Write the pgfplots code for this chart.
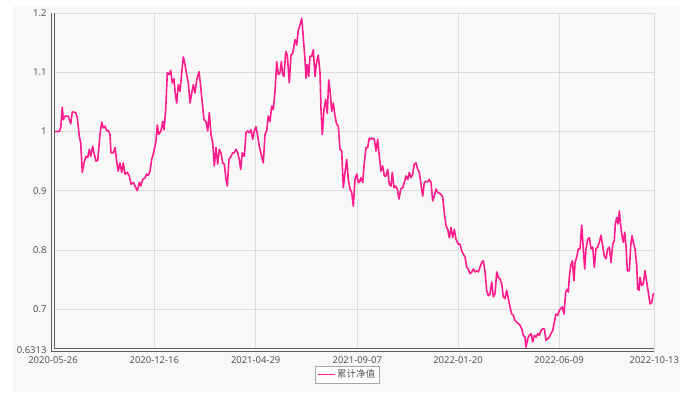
\documentclass[border=0pt]{standalone}
\usepackage{pgfplots}
\pgfplotsset{compat=1.18}
\usepackage{fontspec}
\setmainfont{Noto Sans}
\newfontfamily\cjk{Noto Sans CJK SC}
\definecolor{linepink}{HTML}{FF1C8D}
\definecolor{gridgray}{HTML}{DCDCDC}
\definecolor{axisgray}{HTML}{5F5F5F}
\definecolor{textgray}{HTML}{555555}
\definecolor{panel}{HTML}{F8F8F8}
\begin{document}
\begin{tikzpicture}[x=1bp,y=1bp]
\useasboundingbox (0,0) rectangle (700,392);
\fill[panel] (13,0) rectangle (680,386);
\begin{axis}[
  at={(53bp,379bp)}, anchor=north west,
  scale only axis, width=601.3bp, height=337bp,
  xmin=0, xmax=601.3, ymin=0.6313, ymax=1.2,
  axis background/.style={fill=panel},
  xtick={0,101.3,202.7,304.3,405,506,601.3},
  xticklabels={2020-05-26,2020-12-16,2021-04-29,2021-09-07,2022-01-20,2022-06-09,2022-10-13},
  ytick={0.6313,0.7,0.8,0.9,1,1.1,1.2},
  yticklabels={0.6313,0.7,0.8,0.9,1,1.1,1.2},
  major tick length=0pt,
  grid=major,
  major grid style={gridgray, line width=0.8bp},
  axis line style={gridgray, line width=0.8bp},
  tick label style={font=\fontsize{9.5}{10}\selectfont, text=textgray},
  yticklabel style={xshift=-3bp},
  xticklabel style={yshift=-3bp},
  legend style={at={(0.489,-0.047)}, anchor=north, draw=gray!70, fill=white,
    font=\cjk\fontsize{9.5}{11}\selectfont, text=textgray, inner sep=1.8bp,
    legend cell align=left},
  legend image post style={line width=1bp},
  clip=false,
]
\addplot[linepink, line width=1.6bp, line join=round] coordinates {
(0,1.000)(6.3,1.000)(7.7,1.006)(9.3,1.041)(10.3,1.020)(12,1.026)(15.3,1.026)(17.7,1.013)(19.3,1.033)(22.7,1.032)
(24.3,1.023)(26.3,0.992)(27.7,0.981)(29.3,0.931)(31,0.947)(33,0.958)(34.7,0.956)(36.3,0.970)(37.7,0.958)(39.7,0.975)
(41,0.964)(43,0.950)(44.7,0.951)(47,0.995)(48.7,1.016)(50.3,1.006)(52,1.009)(53.7,1.001)(55.3,1.002)(57,0.995)
(58,0.964)(60.3,0.964)(62,0.973)(63.7,0.950)(65.3,0.933)(67,0.947)(68.7,0.931)(70.3,0.947)(72,0.928)(74.3,0.931)
(76.3,0.925)(78,0.911)(80.3,0.914)(82,0.908)(84.3,0.900)(86.3,0.914)(87.7,0.908)(89.7,0.919)(92,0.922)(93.7,0.928)
(95.3,0.926)(97,0.933)(98.7,0.953)(101,0.967)(103,0.984)(104.3,1.011)(105.7,0.995)(108,1.001)(109.7,1.017)(111,1.003)
(112.7,1.037)(114.3,1.099)(116,1.096)(117.7,1.103)(119.3,1.082)(121,1.089)(122,1.068)(123.7,1.048)(125.3,1.079)(127,1.068)
(128.7,1.099)(130.3,1.126)(132,1.113)(133.7,1.096)(135.3,1.082)(137,1.048)(138.7,1.065)(140.3,1.079)(142,1.065)(143.7,1.087)
(146,1.101)(147.7,1.076)(149.3,1.048)(151,1.020)(153,1.017)(154.7,1.001)(156.3,1.032)(158,0.995)(159.7,0.981)(161.3,0.942)
(163,0.973)(164.7,0.945)(166.3,0.970)(168,0.964)(169.7,0.947)(171.3,0.945)(173,0.919)(174.3,0.908)(176,0.953)(178,0.958)
(179.7,0.964)(181.3,0.964)(183,0.970)(184.7,0.964)(186.3,0.953)(187.7,0.936)(189.3,0.964)(191.3,0.958)(193,0.998)(194.7,1.001)
(196.3,0.998)(198,1.003)(199.7,0.987)(201.3,1.001)(203,1.008)(204.7,0.992)(206.3,0.975)(207,0.970)(208.7,0.958)(210.3,0.947)
(212,0.995)(213.7,1.001)(215.3,1.026)(217,1.017)(218.7,1.043)(220.3,1.037)(222,1.068)(223.7,1.118)(225.3,1.096)(227,1.099)
(228.3,1.118)(229.7,1.096)(231,1.093)(232.7,1.135)(234.3,1.129)(236.3,1.082)(238,1.129)(239.7,1.132)(242,1.155)(243.7,1.146)
(245.3,1.171)(247,1.180)(248.7,1.191)(249.7,1.171)(251,1.143)(252,1.121)(253,1.090)(254.3,1.113)(255.7,1.093)(257,1.127)
(258.7,1.127)(260.3,1.138)(262,1.093)(263.7,1.118)(265.3,1.129)(267,1.099)(268,1.037)(269.3,0.995)(271,1.037)(272.7,1.054)
(274.3,1.031)(275.7,1.087)(277.3,1.065)(278.7,1.034)(280.3,1.048)(282,1.026)(283.7,1.012)(285.3,1.009)(287,0.970)(288.7,0.967)
(290.3,0.905)(292,0.931)(293.7,0.953)(295.3,0.919)(297,0.903)(298.7,0.897)(300.3,0.874)(302,0.919)(303.7,0.928)(305.3,0.914)
(306.3,0.914)(308,0.922)(309.7,0.914)(311.3,0.947)(313,0.973)(314.7,0.973)(316.3,0.989)(318,0.987)(319.7,0.989)(321.3,0.987)
(323,0.967)(324.7,0.987)(326.3,0.958)(328,0.933)(329.7,0.942)(331.3,0.925)(333,0.925)(334.7,0.936)(336.3,0.911)(338,0.908)
(339.3,0.931)(341,0.905)(342.7,0.908)(344.3,0.903)(346,0.886)(347.7,0.903)(349.7,0.905)(351.3,0.914)(353,0.925)(354.7,0.919)
(356.3,0.931)(358,0.922)(359.7,0.928)(361.3,0.945)(363,0.947)(364.7,0.936)(366.3,0.931)(368,0.911)(369.7,0.891)(371.3,0.914)
(373,0.916)(374.7,0.915)(376.3,0.919)(378,0.914)(379.7,0.883)(381.3,0.891)(383,0.903)(384.7,0.897)(386.3,0.896)(388,0.894)
(389.7,0.889)(391.3,0.863)(393,0.841)(394.7,0.835)(396.3,0.821)(398,0.838)(399.7,0.821)(401.3,0.835)(403,0.818)(405.3,0.810)
(407,0.810)(408.7,0.799)(410.3,0.793)(412,0.788)(413.7,0.771)(415.3,0.768)(417,0.760)(418.7,0.763)(420.3,0.768)(422,0.763)
(423.7,0.765)(425.3,0.763)(427,0.771)(428.7,0.779)(430.3,0.782)(432,0.763)(433.7,0.732)(435.3,0.723)(437,0.726)(438.7,0.746)
(440.3,0.721)(442,0.726)(443.7,0.763)(445.3,0.754)(447,0.751)(448.7,0.743)(450.3,0.721)(452,0.718)(453.7,0.732)(455.3,0.718)
(457,0.704)(458.7,0.692)(460.3,0.690)(462,0.681)(463.7,0.678)(465.3,0.676)(467,0.673)(468.7,0.667)(470.3,0.656)(472,0.653)
(473,0.636)(474.7,0.650)(476.3,0.656)(478,0.659)(479.7,0.645)(481.3,0.656)(483,0.653)(484.7,0.659)(486.3,0.656)(488,0.664)
(489.7,0.667)(491.3,0.667)(493,0.648)(494.7,0.650)(496.3,0.653)(498,0.659)(499.7,0.664)(501.3,0.678)(503,0.692)(504.7,0.690)
(506.3,0.698)(507.7,0.701)(509.3,0.704)(511,0.692)(512.7,0.729)(514.3,0.734)(515.3,0.729)(516.3,0.754)(517.7,0.774)(519.3,0.782)
(521,0.748)(522,0.779)(523.7,0.788)(525.3,0.802)(527,0.802)(528.7,0.842)(530.3,0.802)(531.7,0.768)(533,0.802)(534.7,0.818)
(536.3,0.821)(538,0.802)(539.7,0.805)(541.3,0.771)(543,0.802)(544.7,0.805)(546.3,0.813)(548,0.825)(549.7,0.807)(551.3,0.790)
(553,0.785)(554.7,0.802)(556.3,0.805)(558,0.779)(559.7,0.810)(561.3,0.816)(562.3,0.844)(563.7,0.855)(565,0.844)(566.3,0.866)
(567.7,0.841)(569,0.824)(570.3,0.813)(571.7,0.830)(573,0.807)(574.3,0.765)(576.3,0.765)(577.7,0.807)(579,0.824)(580.3,0.813)
(582,0.802)(583.7,0.774)(584.7,0.734)(586,0.732)(587,0.754)(588.7,0.740)(590.3,0.743)(592,0.765)(593.7,0.746)(595.3,0.729)
(597,0.709)(598.7,0.712)(600.3,0.726)(601.3,0.726)
};
\addlegendentry{累计净值}
\draw[axisgray, line width=1bp, double=panel, double distance=1.2bp]
  (rel axis cs:0,1) -- (rel axis cs:0,0) -- (rel axis cs:1,0);
\end{axis}
\end{tikzpicture}
\end{document}
